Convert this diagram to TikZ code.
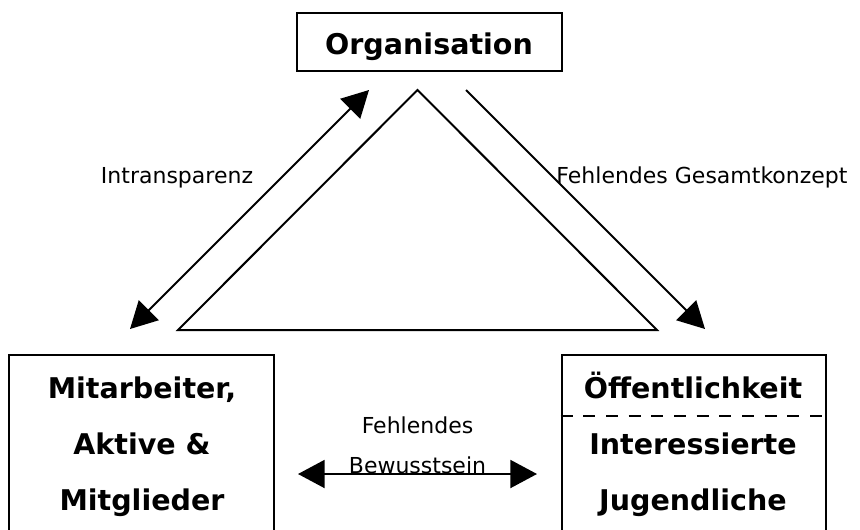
\documentclass[tikz,border=0pt]{standalone}
\usepackage{fontspec}
\setmainfont{DejaVu Sans}
\usetikzlibrary{arrows.meta, positioning}
\tikzset{
    box/.style={rectangle, draw=black, line width=1.5pt, fill=white, minimum width=198.5pt, inner sep=0pt},
    title/.style={font=\fontsize{21.4pt}{25pt}\selectfont\bfseries, anchor=base, inner sep=0pt},
    lbl/.style={font=\fontsize{16.5pt}{20pt}\selectfont, anchor=base, inner sep=0pt},
    edge/.style={line width=1.5pt, line join=miter},
    divider/.style={line width=1.3pt, dash pattern=on 9pt off 8pt},
    arrow/.style={line width=1.5pt, -{Triangle[length=20pt, width=21pt]}},
    dblarrow/.style={line width=1.5pt, {Triangle[length=20pt, width=21pt]}-{Triangle[length=20pt, width=21pt]}}
}
\begin{document}
\begin{tikzpicture}[x=0.75pt, y=-0.75pt]
        \useasboundingbox (0,0) rectangle (860,529);
        \clip (0,0) rectangle (860,529);

        % Boxes
        \node[box, minimum height=43.5pt] (Org) at (429.5,42) {};
        \node[box, anchor=north, minimum height=150pt] (Staff) at (141.5,354) {};
        \node[box, anchor=north, minimum height=150pt] (Public) at (694,354) {};
        \coordinate (Split) at (694,416);
        \draw[divider] (Public.west |- Split) -- ([xshift=-4pt]Public.east |- Split);

        % Box texts
        \node[title] (OrgTxt) at (429,54) {Organisation};
        \node[title] (StaffA) at (142,398) {Mitarbeiter,};
        \node[title] (StaffB) at (142,454) {Aktive \&};
        \node[title] (StaffC) at (142,510) {Mitglieder};
        \node[title] (PublicA) at (693,398) {Öffentlichkeit};
        \node[title] (PublicB) at (693,454) {Interessierte};
        \node[title] (PublicC) at (693,510) {Jugendliche};

        % Triangle
        \coordinate (Apex) at (417.5,90);
        \coordinate (BaseL) at (178,330);
        \coordinate (BaseR) at (657,330);
        \draw[edge] (Apex) -- (BaseR) -- (BaseL) -- cycle;

        % Relations
        \coordinate (IntraS) at (130,329);
        \coordinate (IntraE) at (369,90);
        \draw[dblarrow] (IntraS) -- (IntraE);
        \coordinate (ConceptS) at (466,90);
        \coordinate (ConceptE) at (705,329);
        \draw[arrow] (ConceptS) -- (ConceptE);
        \coordinate (AwareS) at (298,474);
        \coordinate (AwareE) at (537,474);
        \draw[dblarrow] (AwareS) -- (AwareE);

        % Labels
        \node[lbl] (IntraLbl) at (177,183) {Intransparenz};
        \node[lbl] (ConceptLbl) at (702,183) {Fehlendes Gesamtkonzept};
        \node[lbl] (AwareLblA) at (417.5,433) {Fehlendes};
        \node[lbl] (AwareLblB) at (417.5,473) {Bewusstsein};

    \end{tikzpicture}
\end{document}
